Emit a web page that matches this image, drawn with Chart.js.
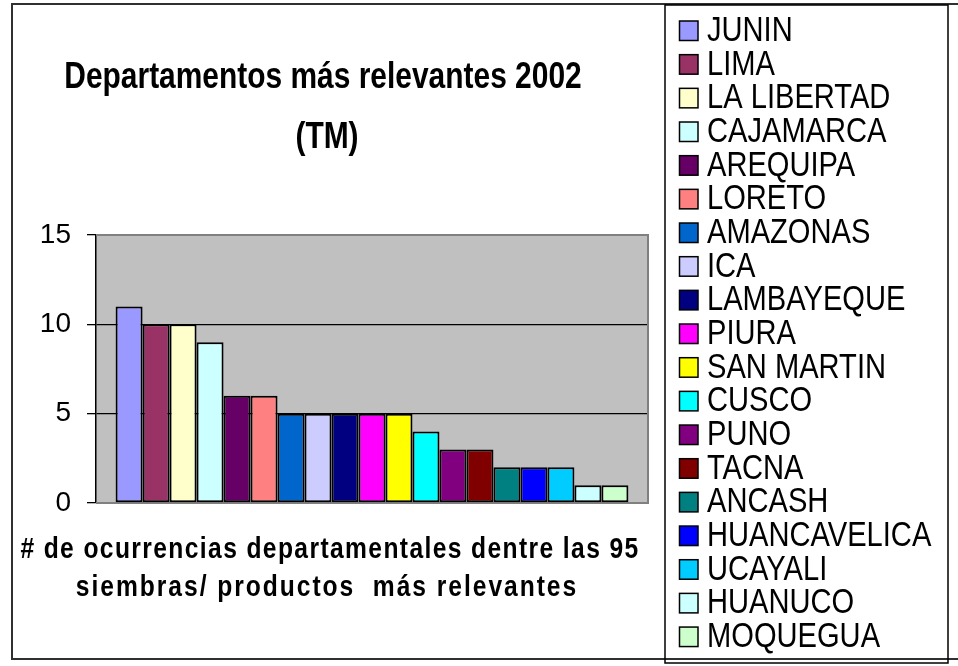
<!DOCTYPE html>
<html>
<head>
<meta charset="utf-8">
<script src="https://cdn.jsdelivr.net/npm/chart.js@4/dist/chart.umd.min.js"></script>
<style>
  html, body { margin: 0; padding: 0; background: #fff; }
  #c { display: block; }
</style>
</head>
<body>
<canvas id="c" width="958" height="666"></canvas>
<script>
// data
const departamentos = ["JUNIN", "LIMA", "LA LIBERTAD", "CAJAMARCA", "AREQUIPA", "LORETO", "AMAZONAS", "ICA",
  "LAMBAYEQUE", "PIURA", "SAN MARTIN", "CUSCO", "PUNO", "TACNA", "ANCASH", "HUANCAVELICA", "UCAYALI",
  "HUANUCO", "MOQUEGUA"];
const ocurrencias = [11, 10, 10, 9, 6, 6, 5, 5, 5, 5, 5, 4, 3, 3, 2, 2, 2, 1, 1];
const colores = ["#9999FF", "#993366", "#FFFFCC", "#CCFFFF", "#660066", "#FF8080", "#0066CC", "#CCCCFF",
  "#000080", "#FF00FF", "#FFFF00", "#00FFFF", "#800080", "#800000", "#008080", "#0000FF", "#00CCFF",
  "#CCFFFF", "#CCFFCC"];
const yTicks = [0, 5, 10, 15];
const titulo = ["Departamentos más relevantes 2002", "(TM)"];
const tituloX = ["# de ocurrencias departamentales dentre las 95", "siembras/ productos  más relevantes"];

const canvas = document.getElementById("c");
const ctx0 = canvas.getContext("2d");

// is a condensed Arial-like face installed?
function hasNarrow() {
  ctx0.font = '40px "Liberation Sans Narrow", monospace';
  const a = ctx0.measureText("HUANCAVELICA").width;
  ctx0.font = "40px monospace";
  const b = ctx0.measureText("HUANCAVELICA").width;
  return Math.abs(a - b) > 1;
}
const NARROW = hasNarrow();
const REG = '"Liberation Sans", Arial, sans-serif';
const NAR = '"Liberation Sans Narrow", "Arial Narrow", sans-serif';
const SQUEEZE = 0.82;

// condensed text: real narrow face if present, else squeeze the regular one
function narrowText(ctx, txt, x, y, size, weight, align, spacing) {
  ctx.save();
  ctx.fillStyle = "#000";
  ctx.textAlign = align;
  ctx.textBaseline = "alphabetic";
  ctx.letterSpacing = (spacing || 0) + "px";
  if (NARROW) {
    ctx.font = weight + " " + size + "px " + NAR;
    ctx.fillText(txt, x, y);
  } else {
    ctx.font = weight + " " + size + "px " + REG;
    ctx.scale(SQUEEZE, 1);
    ctx.fillText(txt, x / SQUEEZE, y);
  }
  ctx.restore();
}

const excelLook = {
  id: "excelLook",
  beforeDraw(chart) {
    const { ctx, chartArea: a } = chart;
    ctx.save();
    ctx.fillStyle = "#fff";
    ctx.fillRect(0, 0, chart.width, chart.height);
    // outer chart frame
    ctx.strokeStyle = "#303030";
    ctx.lineWidth = 2;
    ctx.strokeRect(12, 4, chart.width + 20, 655);
    // plot area
    ctx.fillStyle = "#C0C0C0";
    ctx.fillRect(a.left, a.top, a.right - a.left, a.bottom - a.top);
    ctx.restore();
  },
  beforeDatasetsDraw(chart) {
    const { ctx, chartArea: a } = chart;
    ctx.save();
    ctx.strokeStyle = "#808080";
    ctx.lineWidth = 2;
    ctx.beginPath();
    ctx.moveTo(a.left, a.top);
    ctx.lineTo(a.right, a.top);
    ctx.lineTo(a.right, a.bottom);
    ctx.lineTo(a.left, a.bottom);
    ctx.stroke();
    ctx.restore();
  },
  afterDraw(chart) {
    const ctx = chart.ctx;
    // chart title
    narrowText(ctx, titulo[0], 323, 88, 36.5, "bold", "center", 0);
    narrowText(ctx, titulo[1], 327, 148, 36.5, "bold", "center", 0);
    // category axis title
    narrowText(ctx, tituloX[0], 330, 558, 30, "bold", "center", 1.7);
    narrowText(ctx, tituloX[1], 327, 596, 30, "bold", "center", 2.4);
    // legend, built from the datasets
    ctx.save();
    ctx.strokeStyle = "#000";
    ctx.lineWidth = 1.5;
    ctx.strokeRect(665, 5, 283, 658);
    chart.data.datasets.forEach((ds, i) => {
      const base = 41 + i * 33.67;
      ctx.fillStyle = ds.backgroundColor;
      ctx.fillRect(679.5, base - 20, 18.5, 19.5);
      ctx.strokeStyle = "#000";
      ctx.lineWidth = 1.5;
      ctx.strokeRect(679.5, base - 20, 18.5, 19.5);
      narrowText(ctx, ds.label, 707, base, 35.5, "normal", "left", 0);
    });
    ctx.restore();
  }
};

new Chart(canvas, {
  type: "bar",
  data: {
    labels: [""],
    datasets: departamentos.map((d, i) => ({
      label: d,
      data: [ocurrencias[i]],
      backgroundColor: colores[i],
      borderColor: "#000",
      borderWidth: 2,
      borderSkipped: false,
      barPercentage: 1,
      categoryPercentage: 0.929
    }))
  },
  options: {
    responsive: false,
    animation: false,
    devicePixelRatio: 1,
    layout: { padding: { left: 12, top: 235, right: 310, bottom: 163 } },
    plugins: {
      legend: { display: false },
      title: { display: false },
      tooltip: { enabled: false }
    },
    scales: {
      x: { display: false },
      y: {
        min: 0,
        max: 15,
        afterBuildTicks: (s) => { s.ticks = yTicks.map(v => ({ value: v })); },
        afterFit: (s) => { s.width = 84; },
        ticks: {
          color: "#000",
          padding: 16,
          font: { family: NARROW ? NAR : REG, size: NARROW ? 33 : 28 }
        },
        grid: {
          color: (c) => (c.tick && (c.tick.value === 0 || c.tick.value === 15)) ? "#808080" : "#000",
          lineWidth: 1.3,
          tickColor: "#000",
          tickLength: 9
        },
        border: { display: true, color: "#000", width: 1.5 }
      }
    }
  },
  plugins: [excelLook]
});
</script>
</body>
</html>
